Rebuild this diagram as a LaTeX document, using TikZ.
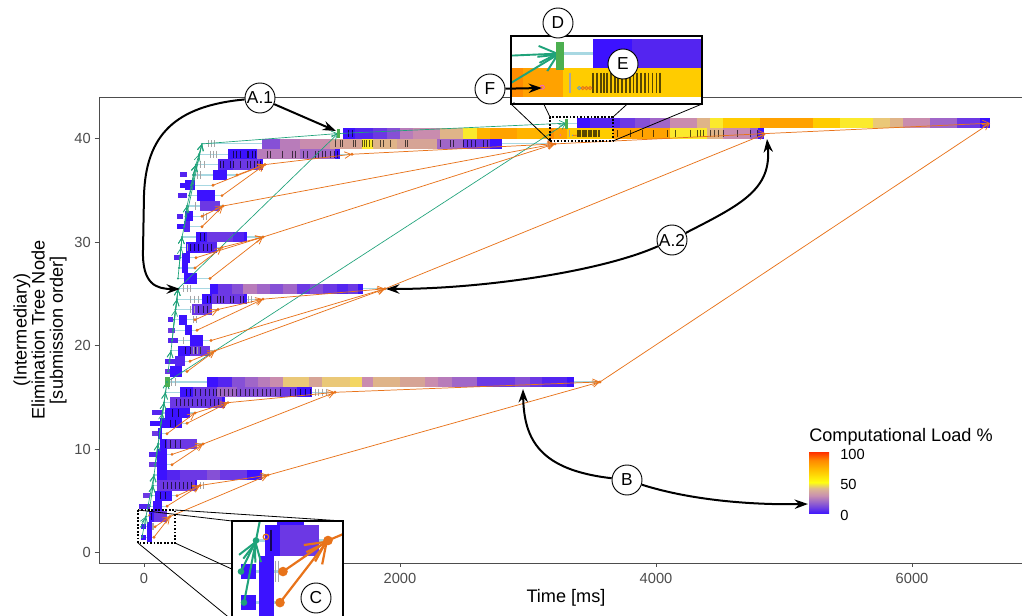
\documentclass[tikz,border=0pt]{standalone}
\usepackage{fontspec}
\setmainfont{Liberation Sans}
\usetikzlibrary{arrows.meta}

% load palette (blue = idle ... orange = busy)
\definecolor{cb0}{HTML}{3C12FF}
\definecolor{cb1}{HTML}{5425F0}
\definecolor{cb2}{HTML}{6C38E4}
\definecolor{cb3}{HTML}{8650D6}
\definecolor{cb4}{HTML}{A066C8}
\definecolor{cb5}{HTML}{B87CBA}
\definecolor{cb6}{HTML}{C98CAE}
\definecolor{cb7}{HTML}{D6A496}
\definecolor{cb8}{HTML}{DFB488}
\definecolor{cb9}{HTML}{EAC878}
\definecolor{cbL}{HTML}{F3D662}
\definecolor{cbA}{HTML}{FBEA2C}
\definecolor{cbB}{HTML}{FFCC00}
\definecolor{cbC}{HTML}{FFB400}
\definecolor{cbD}{HTML}{FFA200}
\definecolor{cbE}{HTML}{FF8C00}
\definecolor{treegreen}{HTML}{1FA37A}
\definecolor{nodegreen}{HTML}{4CAF50}
\definecolor{edgeorange}{HTML}{E8731A}
\definecolor{linkblue}{HTML}{A8D8E2}
\definecolor{axisgray}{HTML}{4D4D4D}
\definecolor{lg0}{HTML}{3C12FF}
\definecolor{lg1}{HTML}{8050D8}
\definecolor{lg2}{HTML}{C890B0}
\definecolor{lg3}{HTML}{DDB890}
\definecolor{lg4}{HTML}{FFFF10}
\definecolor{lg5}{HTML}{FFC000}
\definecolor{lg6}{HTML}{FF8A00}
\definecolor{lg7}{HTML}{FF3A00}

\pgfdeclareverticalshading{loadgrad}{100bp}{color(0bp)=(lg0); color(25bp)=(lg0); color(32bp)=(lg1); color(40bp)=(lg2); color(46bp)=(lg3); color(51bp)=(lg4); color(61bp)=(lg5); color(69bp)=(lg6); color(75bp)=(lg7); color(100bp)=(lg7)}

\tikzset{
  linkline/.style={draw=linkblue, line width=0.9pt},
  taskmark/.style={draw=black, opacity=0.65, line width=0.45pt},
  graymark/.style={draw=gray!70, line width=0.4pt},
  treeedge/.style={draw=treegreen, line width=0.5pt, -{Straight Barb[length=4.5pt,width=4.5pt]}},
  depedge/.style={draw=edgeorange, line width=0.55pt, -{Straight Barb[length=5pt,width=5pt]}},
  calloutarrow/.style={draw=black, line width=1.5pt, -{Stealth[length=10pt,width=7pt]}},
  calltag/.style={circle, draw=black, line width=0.7pt, fill=white, minimum size=22.5pt, inner sep=0pt, font=\fontsize{13}{13}\selectfont},
  axisline/.style={draw=axisgray, line width=0.7pt},
  ticklab/.style={text=axisgray, inner sep=0pt, font=\fontsize{11}{11}\selectfont},
  zoomlink/.style={draw=black, line width=0.6pt},
  zoomframe/.style={draw=black, line width=1.3pt, dash pattern=on 1.3pt off 1.3pt},
  insetframe/.style={draw=black, line width=0.8pt}
}

% everything inside the plotting panel (reused by the magnifiers)
\newcommand\plotcontent{%
  \foreach \ri/\sx/\ex in {0/566/990, 1/338/766, 2/202/555, 3/199/352, 4/196/265, 5/193/237, 6/191/213, 7/189/222, 8/187/223, 9/185.5/202, 10/184/202, 11/182/263, 12/181/222, 13/180/196, 14/179/195, 15/178/210, 16/178/385, 17/177/263, 18/175.5/218, 19/174/195, 20/173/197, 21/172/211, 22/171/215, 23/169.5/190, 24/168/187, 25/167/600, 26/165.5/335, 27/164/228, 28/162.5/195, 29/161/187, 30/159.5/167, 31/158/203, 32/156.5/172, 33/155/172, 34/154/268, 35/153/200, 36/151.5/177, 37/150/167, 38/146/170, 39/141/155, 40/142/154}
  {\coordinate (S\ri) at (\sx,{123.2+10.35*\ri}); \coordinate (E\ri) at (\ex,{123.2+10.35*\ri});}
  % start/end links of every node
  \foreach \ri in {0,...,40} {\draw[linkline] (S\ri) -- (E\ri);}
  % task bars coloured by load
  \foreach \ri/\xa/\xb/\cl in {0/577/590/cb0, 0/590/620/cb1, 0/620/635/cb2, 0/635/650/cb3, 0/650/670/cb4, 0/670/697/cb6, 0/697/710/cb8, 0/710/723/cbA, 0/723/760/cbB, 0/760/813/cbD, 0/813/840/cbB, 0/840/873/cbA, 0/873/890/cb9, 0/890/903/cb8, 0/903/930/cb6, 0/930/957/cb4, 0/957/980/cb2, 0/980/990/cb0,
  1/343/355/cb0, 1/355/373/cb1, 1/373/387/cb2, 1/387/400/cb3, 1/400/413/cb5, 1/413/440/cb6, 1/440/463/cb8, 1/463/477/cbA, 1/477/490/cbC, 1/490/517/cbD, 1/517/550/cbC, 1/550/554/cbE, 1/554/567/cbD, 1/567/613/cbB, 1/613/670/cbD, 1/670/707/cbA, 1/707/723/cb8, 1/723/750/cb6, 1/750/758/cb4, 1/758/764/cb0,
  2/262/280/cb3, 2/280/300/cb5, 2/300/330/cb6, 2/330/362/cb7, 2/362/373/cbA, 2/373/397/cb8, 2/397/437/cb7, 2/437/463/cb4, 2/463/490/cb2, 2/490/502/cb0,
  3/228/257/cb0, 3/257/300/cb5, 3/300/335/cb4, 3/335/340/cb0,
  4/218/233/cb1, 4/233/260/cb2, 4/260/263/cb0,
  5/213/227/cb0, 6/185/195/cb0, 7/197/215/cb0, 8/200/220/cb2, 9/185/193/cb0, 10/184/190/cb1,
  11/196/207/cb0, 11/207/233/cb2, 11/233/244/cb1, 11/244/247/cb0,
  12/186/200/cb0, 12/200/217/cb1, 13/182/190/cb0, 14/182/188/cb0, 15/184/197/cb0,
  16/210/218/cb0, 16/218/232/cb2, 16/232/243/cb3, 16/243/257/cb5, 16/257/270/cb4, 16/270/283/cb3, 16/283/297/cb4, 16/297/310/cb2, 16/310/323/cb3, 16/323/337/cb2, 16/337/348/cb1, 16/348/358/cb2, 16/358/363/cb0,
  17/202/212/cb0, 17/212/244/cb2, 17/244/247/cb0, 18/192/212/cb2, 19/179/187/cb0, 20/185/192/cb0, 21/190/203/cb0, 22/178/190/cb0, 22/190/210/cb2, 23/175/185/cb1, 24/170/182/cb0,
  25/207/218/cb0, 25/218/232/cb1, 25/232/245/cb3, 25/245/258/cb4, 25/258/270/cb5, 25/270/283/cb6, 25/283/309/cb9, 25/309/322/cb7, 25/322/350/cb9, 25/350/362/cbL, 25/362/373/cb6, 25/373/400/cb8, 25/400/425/cb7, 25/425/438/cb6, 25/438/452/cb5, 25/452/477/cb4, 25/477/515/cb2, 25/515/530/cb3, 25/530/542/cb2, 25/542/567/cb1, 25/567/574/cb0,
  26/180/193/cb0, 26/193/217/cb2, 26/217/237/cb4, 26/237/280/cb3, 26/280/297/cb2, 26/297/312/cb0,
  27/170/222/cb2, 27/222/225/cb0, 28/165/190/cb0, 29/160/182/cb0, 30/158/162/cb0, 31/160/167/cb0, 31/167/197/cb2, 32/157/167/cb0, 33/157/167/cb0,
  34/157/167/cb0, 34/167/180/cb1, 34/180/207/cb2, 34/207/220/cb3, 34/220/247/cb2, 34/247/262/cb0,
  35/157/195/cb2, 35/195/197/cb0, 36/155/172/cb0, 37/153/162/cb0, 38/149/154/cb0, 38/154/167/cb2, 39/147/152/cb0, 40/147/152/cb0}
  {\fill[\cl] (\xa,{118+10.35*\ri}) rectangle (\xb,{128.35+10.35*\ri});}
  % thin side blocks
  \foreach \ri/\xa/\xb/\cl in {5/180/187/cb1, 6/180/186/cb0, 7/178/187/cb1, 9/177/183/cb1, 10/177/184/cb0, 13/174/180/cb1, 19/168/173/cb1, 20/168/175/cb2, 21/168/178/cb1, 23/165/175/cb1, 24/165/170/cb2, 28/152/163/cb1, 29/150/160/cb0, 30/152/158/cb2, 32/149/157/cb1, 33/149/157/cb2, 36/143/150/cb2, 37/139/150/cb1, 39/141/146/cb0, 40/141/146/cb0}
  {\fill[\cl] (\xa,{120.7+10.35*\ri}) rectangle (\xb,{125.7+10.35*\ri});}
  % light task markers
  \foreach \ri/\xs in {1/{569.5}, 2/{208,211,214,548,551}, 3/{210,213,216}, 4/{200,204}, 5/{197,200}, 8/{195}, 9/{203,206}, 12/{187}, 16/{183,187,190}, 17/{190,194,198,248,251}, 18/{190,194}, 19/{193,196}, 21/{183}, 22/{193,197,200}, 25/{171,175}, 26/{315,318,322,326}, 35/{200,203}, 39/{152.5,153.5}}
  {\foreach \xx in \xs {\draw[graymark] (\xx,{119.6+10.35*\ri}) -- (\xx,{126.8+10.35*\ri});}}
  % dark task markers
  \foreach \ri/\xs in {1/{348,352,577,578.3,579.6,580.6,581.8,583,584.3,585.4,586.7,588,589.3,590.4,591.6,593,594.2,595.4,596.7,598,599.3,617,630,642,653,667,675,690,697,700,703,710,714,718,723,737,750,757},
  2/{335,340,342,353,355,362,364,366,369,372,380,383,390,405,407,440,450,453,463,467,471,475,483,487},
  3/{233,236,240,247,248,252,255,267,270,282,292,295,303,307,315,318,322,325,330,334,337},
  4/{220,223,230,233,240,247,250,254,257,260}, 11/{200,204}, 12/{190,194,198,203,207,211},
  17/{207,210,217,220,223,230,233,240,243}, 18/{198,203,207}, 22/{185,190,195,200},
  26/{186,190,195,200,205,209,213,216,220,224,228,232,236,240,245,249,253,257,262,266,270,275,280,290,295,300,305,310},
  27/{176,180,184,188,192,197,201,205,210,214,218}, 28/{172,178}, 29/{170,175}, 31/{165,170,175,180},
  35/{163,167,171,175,179,183,187,191}, 36/{160,165}, 38/{151}}
  {\foreach \xx in \xs {\draw[taskmark] (\xx,{119.6+10.35*\ri}) -- (\xx,{126.8+10.35*\ri});}}
  % small markers on the second row
  \draw[magenta!60!white, line width=0.25pt] (560.3,135.1) circle[radius=0.7];
  \foreach \xx/\cl in {572.5/cyan!50!gray, 573.7/edgeorange, 574.9/edgeorange, 576.1/edgeorange}
  {\draw[\cl, line width=0.25pt] (\xx,135.4) circle[radius=0.55];}
  \draw[edgeorange, line width=0.3pt] (149.3,515.3) circle[radius=0.9];
  % elimination tree (start points)
  \foreach \ch/\pa in {1/0,2/1,3/2,4/3,5/4,6/4,7/4,8/2,9/8,10/8,11/2,12/11,13/11,14/12,15/11,16/1,17/16,18/17,19/18,20/17,21/16,22/16,23/22,24/22,25/0,26/25,27/26,28/27,29/27,30/28,31/26,32/31,33/31,34/25,35/34,36/35,37/35,38/34,39/38,40/38}
  {\draw[treeedge] (S\ch) -- (S\pa);}
  % dependencies (end points)
  \foreach \ch/\pa in {1/0,2/1,3/2,4/3,5/4,6/4,7/4,8/2,9/8,10/8,11/2,12/11,13/11,14/12,15/11,16/1,17/16,18/17,19/18,20/17,21/16,22/16,23/22,24/22,25/0,26/25,27/26,28/27,29/27,30/28,31/26,32/31,33/31,34/25,35/34,36/35,37/35,38/34,39/38,40/38}
  {\draw[depedge] (E\ch) -- (E\pa);}
  % node markers
  \fill[nodegreen] (565,119) rectangle (567.5,129);
  \fill[nodegreen] (337,129) rectangle (340,138);
  \fill[nodegreen] (165,377) rectangle (170,387);
  \foreach \ri in {2,...,40} {\fill[treegreen] (S\ri) circle[radius=1.1]; \fill[edgeorange] (E\ri) circle[radius=1.6];}
}

\begin{document}
\begin{tikzpicture}[x=0.75pt,y=-0.75pt]
\useasboundingbox (0,0) rectangle (1022,616);
\fill[white] (0,0) rectangle (1022,616);

\plotcontent

% axes
\draw[axisline] (99,97) -- (1022,97);
\draw[axisline] (99,97) -- (99,563) -- (1022,563);
\foreach \v/\yy in {0/552.7,10/449.2,20/345.7,30/242.2,40/138.7}
{\draw[axisline] (94.5,\yy) -- (99,\yy); \node[ticklab, anchor=east] (yl\v) at (91,\yy) {\v};}
\foreach \v/\xx in {0/144,2000/400,4000/656,6000/912}
{\draw[axisline] (\xx,563) -- (\xx,567.5); \node[ticklab, anchor=north] (xl\v) at (\xx,572.7) {\v};}
\node[font=\fontsize{13.6}{13.6}\selectfont] (xtitle) at (566,598) {Time [ms]};
\node[rotate=90, align=center, font=\fontsize{13.6}{13.6}\selectfont] (ytitle) at (40,330) {(Intermediary)\\Elimination Tree Node\\{}[submission order]};

% legend
\node[anchor=west, inner sep=0pt, font=\fontsize{13.6}{13.6}\selectfont] (legtitle) at (809,437) {Computational Load \%};
\shade[shading=loadgrad] (809,453) rectangle (829,514);
\node[anchor=west, inner sep=0pt, font=\fontsize{11}{11}\selectfont] (leg100) at (840,454) {100};
\node[anchor=west, inner sep=0pt, font=\fontsize{11}{11}\selectfont] (leg50) at (840,484.5) {50};
\node[anchor=west, inner sep=0pt, font=\fontsize{11}{11}\selectfont] (leg0) at (840,515) {0};

% magnifier near the top
\draw[zoomlink] (550,117) -- (511,36);
\draw[zoomlink] (613,117) -- (702,36);
\draw[zoomlink] (550,141) -- (511,104);
\draw[zoomlink] (613,141) -- (702,104);
\fill[white] (511,36) rectangle (702,104);
\begin{scope}
  \clip (511,36) rectangle (702,104);
  \begin{scope}[transform canvas={cm={3.03,0,0,2.83,(-1155.5,-295.1)}}]
    \plotcontent
  \end{scope}
\end{scope}
\draw[insetframe] (511,36) rectangle (702,104);
\draw[zoomframe] (550,117) rectangle (613,141);

% magnifier near the origin
\draw[zoomlink] (138,510) -- (232,521);
\draw[zoomlink] (175,510) -- (343,521);
\draw[zoomlink] (138,543) -- (232,620);
\draw[zoomlink] (175,543) -- (343,620);
\fill[white] (232,521) rectangle (343,620);
\begin{scope}
  \clip (232,521) rectangle (343,620);
  \begin{scope}[transform canvas={cm={3,0,0,3,(-182,-1009)}}]
    \plotcontent
  \end{scope}
\end{scope}
\draw[insetframe] (232,521) rectangle (343,620);
\draw[zoomframe] (138,510) rectangle (175,543);

% annotation targets
\coordinate (tA1a) at (336,131);
\coordinate (tA1b) at (180,289);
\coordinate (tA2a) at (767,139);
\coordinate (tA2b) at (386,289);
\coordinate (tB1) at (523,389);
\coordinate (tB2) at (808,504);
\coordinate (tF) at (542,88);

\node[calltag] (A1) at (260,98) {A.1};
\node[calltag] (A2) at (672,240) {A.2};
\node[calltag] (B) at (627,480) {B};
\node[calltag] (C) at (316,598) {C};
\node[calltag] (D) at (558,23) {D};
\node[calltag] (E) at (623,64) {E};
\node[calltag] (F) at (490,89) {F};

\draw[calloutarrow] (A1) -- (tA1a);
\draw[calloutarrow] (A1) .. controls (175,106) and (146,135) .. (144,195) -- (143,250) .. controls (142,284) and (156,289) .. (tA1b);
\draw[calloutarrow] (A2) .. controls (740,205) and (772,190) .. (tA2a);
\draw[calloutarrow] (A2) .. controls (600,272) and (480,289) .. (tA2b);
\draw[calloutarrow] (B) .. controls (540,470) and (524,440) .. (tB1);
\draw[calloutarrow] (B) .. controls (690,500) and (750,505) .. (tB2);
\draw[calloutarrow] (F) -- (tF);
\end{tikzpicture}
\end{document}
